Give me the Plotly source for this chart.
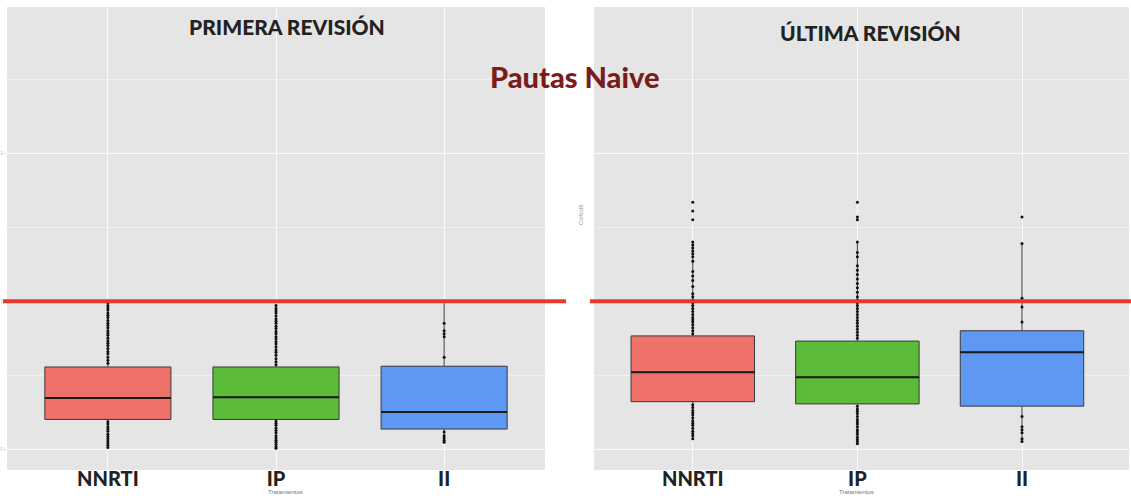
import plotly.graph_objects as go

# ---------------- data ----------------
categories = ["NNRTI", "IP", "II"]
box_colors = ["#EE716A", "#5DBB3A", "#5E98F2"]
panel_titles = ["PRIMERA REVISIÓN", "ÚLTIMA REVISIÓN"]
main_title = "Pautas Naive"
reference_value = 1.0

# Primera revisión
first_q1 = [0.20, 0.20, 0.135]
first_median = [0.345, 0.35, 0.25]
first_q3 = [0.555, 0.555, 0.56]
first_low = [0.01, 0.005, 0.04]
first_high = [1.0, 0.98, 0.99]
first_out_nnrti = [0.58, 0.60, 0.62, 0.645, 0.66, 0.68, 0.70, 0.715, 0.73, 0.75, 0.77, 0.785,
                   0.80, 0.82, 0.835, 0.85, 0.87, 0.89, 0.905, 0.92, 0.94, 0.955, 0.97, 0.99, 1.0,
                   0.185, 0.17, 0.15, 0.135, 0.12, 0.10, 0.085, 0.07, 0.055, 0.04, 0.025, 0.01]
first_out_ip = [0.57, 0.59, 0.61, 0.635, 0.655, 0.67, 0.69, 0.71, 0.725, 0.745, 0.76, 0.78,
                0.795, 0.815, 0.83, 0.85, 0.865, 0.88, 0.90, 0.92, 0.935, 0.95, 0.97,
                0.19, 0.175, 0.16, 0.14, 0.125, 0.11, 0.09, 0.075, 0.06, 0.045, 0.03, 0.015, 0.005]
first_out_ii = [0.62, 0.76, 0.78, 0.80, 0.85, 0.115, 0.09, 0.075, 0.06, 0.045]

# Última revisión
last_q1 = [0.32, 0.305, 0.29]
last_median = [0.52, 0.485, 0.655]
last_q3 = [0.765, 0.73, 0.80]
last_low = [0.07, 0.035, 0.04]
last_high = [1.40, 1.40, 1.39]
last_out_nnrti = [0.78, 0.80, 0.82, 0.84, 0.86, 0.875, 0.89, 0.91, 0.93, 0.95, 0.97, 0.99, 1.01,
                  1.03, 1.05, 1.10, 1.14, 1.17, 1.20, 1.27, 1.30, 1.32, 1.34, 1.36, 1.38, 1.40,
                  1.55, 1.61, 1.67,
                  0.30, 0.28, 0.26, 0.245, 0.23, 0.21, 0.19, 0.175, 0.16, 0.14, 0.12, 0.105, 0.09, 0.07]
last_out_ip = [0.75, 0.77, 0.79, 0.81, 0.83, 0.85, 0.87, 0.89, 0.91, 0.93, 0.95, 0.97, 0.99, 1.01,
               1.03, 1.06, 1.09, 1.12, 1.15, 1.18, 1.21, 1.24, 1.30, 1.33, 1.40, 1.55, 1.57, 1.67,
               0.29, 0.27, 0.255, 0.24, 0.22, 0.20, 0.185, 0.17, 0.15, 0.13, 0.115, 0.10, 0.08,
               0.065, 0.05, 0.035]
last_out_ii = [0.86, 0.96, 1.0, 1.02, 1.39, 1.57, 0.22, 0.15, 0.13, 0.11, 0.07, 0.05]

y_ticks = [0, 1, 2, 3]
y_tick_labels = ["0", "1", "2", "3"]

# ---------------- figure ----------------
W, H = 1131, 499
fig = go.Figure()

panels = [
    dict(xa="x", ya="y", q1=first_q1, med=first_median, q3=first_q3, lo=first_low, hi=first_high,
         outs=[first_out_nnrti, first_out_ip, first_out_ii]),
    dict(xa="x2", ya="y2", q1=last_q1, med=last_median, q3=last_q3, lo=last_low, hi=last_high,
         outs=[last_out_nnrti, last_out_ip, last_out_ii]),
]

BOX_W = 0.75
for p in panels:
    for i, cat in enumerate(categories):
        fig.add_trace(go.Box(
            x=[i], q1=[p["q1"][i]], median=[p["med"][i]], q3=[p["q3"][i]],
            lowerfence=[p["lo"][i]], upperfence=[p["hi"][i]],
            width=BOX_W, whiskerwidth=0, fillcolor=box_colors[i],
            line=dict(color="#3a3a3a", width=1), boxpoints=False,
            xaxis=p["xa"], yaxis=p["ya"], showlegend=False, hoverinfo="skip"))
        # thicker median line
        fig.add_trace(go.Scatter(
            x=[i - BOX_W / 2, i + BOX_W / 2], y=[p["med"][i]] * 2, mode="lines",
            line=dict(color="#1a1a1a", width=2), xaxis=p["xa"], yaxis=p["ya"],
            showlegend=False, hoverinfo="skip"))
        # outliers
        fig.add_trace(go.Scatter(
            x=[i] * len(p["outs"][i]), y=p["outs"][i], mode="markers",
            marker=dict(color="#111111", size=3), xaxis=p["xa"], yaxis=p["ya"],
            showlegend=False, hoverinfo="skip"))

BG = "#E5E5E5"
yrange = [-0.142, 2.99]
ydom = [1 - 470 / H, 1 - 7 / H]

xcommon = dict(tickvals=[0, 1, 2], ticktext=categories, showgrid=True, gridcolor="#FAFAFA",
               gridwidth=1, zeroline=False, ticks="", showline=False, ticklabelstandoff=-5,
               tickfont=dict(family="Lato", size=20, color="#222222", weight=900))
ycommon = dict(range=yrange, tickvals=y_ticks, ticktext=y_tick_labels, showgrid=True,
               gridcolor="#FAFAFA", gridwidth=1, zeroline=False, showline=False,
               minor=dict(dtick=0.5, tick0=0, showgrid=True, gridcolor="#F0F0F0", gridwidth=0.6))

fig.update_layout(
    width=W, height=H, paper_bgcolor="white", plot_bgcolor=BG,
    margin=dict(l=0, r=0, t=0, b=0, autoexpand=False),
    xaxis=dict(domain=[7 / W, 545 / W], range=[-0.6, 2.6], **xcommon),
    xaxis2=dict(domain=[594 / W, 1129 / W], range=[-0.6, 2.65], **xcommon),
    yaxis=dict(domain=ydom, showticklabels=False, **ycommon),
    yaxis2=dict(domain=ydom, showticklabels=True, ticks="outside", ticklen=2,
                tickcolor="#CCCCCC", tickfont=dict(size=5, color="#BBBBBB"), **ycommon),
)

# red reference lines
fig.add_shape(type="line", xref="paper", yref="y", x0=3 / W, x1=566 / W,
              y0=reference_value, y1=reference_value, line=dict(color="#E8382E", width=4))
fig.add_shape(type="line", xref="paper", yref="y2", x0=590 / W, x1=1.0,
              y0=reference_value, y1=reference_value, line=dict(color="#E8382E", width=4))


def note(text, x, y, size, color, family="Lato", weight=900, angle=0):
    fig.add_annotation(text=text, xref="paper", yref="paper", x=x / W, y=1 - y / H,
                       xanchor="center", yanchor="middle", textangle=angle, showarrow=False,
                       font=dict(family=family, size=size, color=color, weight=weight))


# titles
note(panel_titles[0], 287, 27, 21, "#222222")
note(panel_titles[1], 870, 33, 21, "#222222")
note(main_title, 575, 76, 29, "#7A1C1C")

# axis titles
for xc in (285, 857):
    note("Tratamientos", xc, 492, 6, "#777777", family="Liberation Sans", weight="normal")
note("Cd4cd8", 581, 215, 6, "#999999", family="Liberation Sans", weight="normal", angle=-90)

fig.write_html("out.html", config={"displayModeBar": False},
               post_script="document.body.style.margin='0';")
